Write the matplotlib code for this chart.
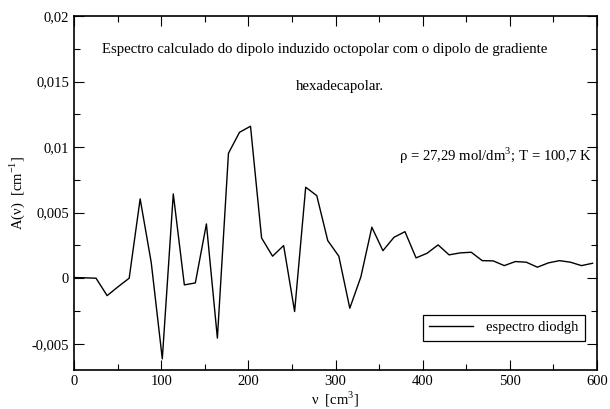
import matplotlib.pyplot as plt

plt.rcParams['font.family'] = ['Liberation Serif', 'DejaVu Serif']
plt.rcParams['mathtext.fontset'] = 'custom'
plt.rcParams['mathtext.rm'] = 'Liberation Serif'

nu = [0.0, 12.7, 25.3, 38.0, 50.6, 63.3, 75.9, 88.6, 101.3, 113.9, 126.6, 139.2,
      151.9, 164.5, 177.2, 189.9, 202.5, 215.2, 227.8, 240.5, 253.1, 265.8, 278.5, 291.1,
      303.8, 316.4, 329.1, 341.7, 354.4, 367.1, 379.7, 392.4, 405.0, 417.7, 430.3, 443.0,
      455.7, 468.3, 481.0, 493.6, 506.3, 518.9, 531.6, 544.3, 556.9, 569.6, 582.2, 594.9]
a_nu = [0.00005, 0.00003, 0.0, -0.00133, -0.00065, 0.0, 0.00605, 0.0012, -0.00615, 0.00643,
        -0.00051, -0.00036, 0.00414, -0.00457, 0.00953, 0.01113, 0.01159, 0.00307, 0.00168,
        0.00249, -0.00254, 0.00694, 0.0063, 0.00287, 0.00168, -0.00229, 0.0001, 0.00389,
        0.0021, 0.00312, 0.00355, 0.00155, 0.0019, 0.00254, 0.00178, 0.00193, 0.00198,
        0.00134, 0.00132, 0.00096, 0.00127, 0.00122, 0.00084, 0.00117, 0.00134, 0.00122,
        0.00096, 0.00114]

yticks = [-0.005, 0, 0.005, 0.01, 0.015, 0.02]
ytick_labels = ['-0,005', '0', '0,005', '0,01', '0,015', '0,02']
xticks = [0, 100, 200, 300, 400, 500, 600]

fig = plt.figure(figsize=(6.1, 4.09), dpi=100)
ax = fig.add_axes([0.1213, 0.0954, 0.8574, 0.8655])

ax.plot(nu, a_nu, '-', color='black', lw=1.0, label='espectro diodgh')

ax.set_xlim(0, 600)
ax.set_ylim(-0.007, 0.02)
ax.set_xticks(xticks)
ax.set_xticks(range(50, 600, 100), minor=True)
ax.set_yticks(yticks)
ax.set_yticklabels(ytick_labels)
ax.set_yticks([-0.0025, 0.0025, 0.0075, 0.0125, 0.0175], minor=True)
ax.tick_params(which='both', direction='in', top=True, right=True, labelsize=10.5, width=0.8)
ax.tick_params(which='major', length=7)
ax.tick_params(which='minor', length=4)
for s in ax.spines.values():
    s.set_linewidth(1.2)

ax.set_xlabel('ν  [cm$^{3}$]', fontsize=10.5, labelpad=1)
ax.set_ylabel('A(ν)  [cm$^{-1}$]', fontsize=10.5, labelpad=3)

ax.text(288, 0.01747, 'Espectro calculado do dipolo induzido octopolar com o dipolo de gradiente',
        ha='center', va='center', fontsize=10.6)
ax.text(305, 0.01465, 'hexadecapolar.', ha='center', va='center', fontsize=10.6)
ax.text(595, 0.0093, 'ρ = 27,29 mol/dm$^{3}$; T = 100,7 K', ha='right', va='center', fontsize=10.6)

leg = ax.legend(loc='lower right', bbox_to_anchor=(0.977, 0.082), borderaxespad=0, fontsize=10.5,
                fancybox=False, framealpha=1, edgecolor='black', handlelength=3.0,
                handletextpad=0.9, borderpad=0.45)
leg.get_frame().set_linewidth(0.9)

fig.savefig('out.png', dpi=100)
